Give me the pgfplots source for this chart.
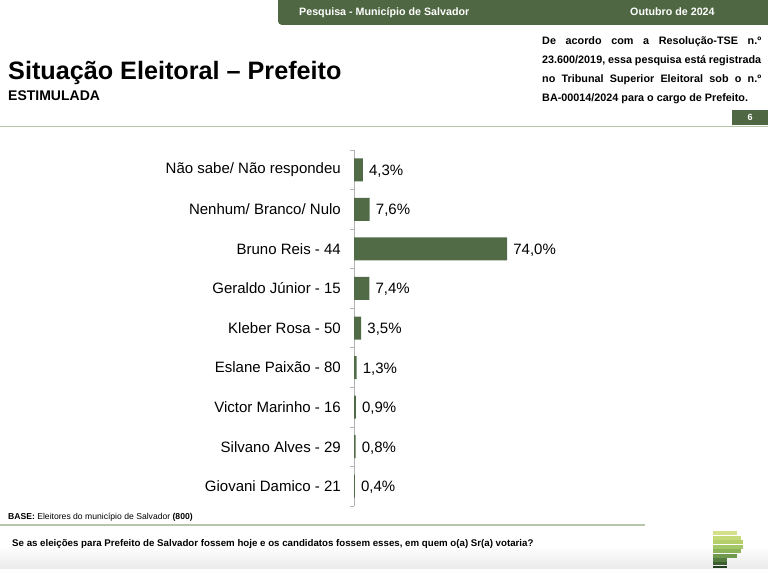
\documentclass[border=0pt]{standalone}
\usepackage{pgfplots}
\pgfplotsset{compat=1.18}
\usepackage{fontspec}
\setmainfont{Liberation Sans}
\definecolor{hdr}{HTML}{4F6743}
\definecolor{barA}{HTML}{506B46}
\definecolor{rule}{HTML}{B7C6AA}
\definecolor{lg1}{HTML}{D4E08A}
\definecolor{lg2}{HTML}{C5D978}
\definecolor{lg3}{HTML}{B5D06A}
\definecolor{lg4}{HTML}{A3C666}
\definecolor{lg5}{HTML}{8DB359}
\definecolor{lg6}{HTML}{6F9A4D}
\definecolor{lg7}{HTML}{527C40}
\definecolor{lg8}{HTML}{3A5E30}
\definecolor{lg9}{HTML}{22401E}
\begin{document}
\begin{tikzpicture}[x=1pt,y=1pt]
\useasboundingbox (0,0) rectangle (768,568);
% bottom faint gradient
\shade[top color=white, bottom color=black!8] (0,0) rectangle (768,22);
% header band
\fill[hdr] (278,568) [rounded corners=4pt]-- (278,543) -- (500,543) [sharp corners]-- (768,543) -- (768,568) -- cycle;
\node[anchor=base west, inner sep=0, text=white, font=\fontsize{10.7}{12}\selectfont\bfseries] at (299,552) {Pesquisa - Município de Salvador};
\node[anchor=base west, inner sep=0, text=white, font=\fontsize{10.7}{12}\selectfont\bfseries] at (630,552) {Outubro de 2024};
% title
\node[anchor=base west, inner sep=0, font=\fontsize{25.2}{28}\selectfont\bfseries] at (8,488) {Situação Eleitoral – Prefeito};
\node[anchor=base west, inner sep=0, font=\fontsize{14}{16}\selectfont\bfseries] at (8,467) {ESTIMULADA};
% legal text
\begin{scope}[every node/.style={anchor=base west, inner sep=0, font=\fontsize{10.8}{12}\selectfont\bfseries}]
\node at (542,523) {\makebox[219pt][s]{De acordo com a Resolução-TSE n.º}};
\node at (542,504) {\makebox[219pt][s]{23.600/2019, essa pesquisa está registrada}};
\node at (542,485) {\makebox[219pt][s]{no Tribunal Superior Eleitoral sob o n.º}};
\node at (542,466) {BA-00014/2024 para o cargo de Prefeito.};
\end{scope}
% page box and rule
\draw[rule, line width=1.5pt] (0,441.5) -- (768,441.5);
\fill[hdr] (732,443) rectangle (768,458);
\node[text=white, inner sep=0, font=\fontsize{9}{10}\selectfont\bfseries] at (750,450.5) {6};
% bottom
\node[anchor=base west, inner sep=0, font=\fontsize{8.6}{10}\selectfont] at (8,49) {\textbf{BASE:} Eleitores do município de Salvador \textbf{(800)}};
\draw[rule, line width=1.5pt] (0,43) -- (645,43);
\node[anchor=base west, inner sep=0, font=\fontsize{9.7}{12}\selectfont\bfseries] at (12,22) {Se as eleições para Prefeito de Salvador fossem hoje e os candidatos fossem esses, em quem o(a) Sr(a) votaria?};
% logo
\fill[lg1] (713,33) rectangle (737,37);
\fill[lg2] (713,28.5) rectangle (741,32.5);
\fill[lg3] (713,24) rectangle (743,28);
\fill[lg4] (713,19.5) rectangle (743,23.5);
\fill[lg5] (713,15) rectangle (741,19);
\fill[lg6] (713,10.5) rectangle (737,14.5);
\fill[lg7] (713,6.5) rectangle (727,10);
\fill[lg8] (713,3) rectangle (727,6);
\fill[lg9] (713,0) rectangle (727,2.5);
\begin{axis}[
  at={(354pt,62pt)}, anchor=south west,
  scale only axis, width=207pt, height=356pt,
  xbar, bar width=23pt,
  xmin=0, xmax=100, ymin=-0.5, ymax=8.5, y dir=reverse,
  axis x line=none, axis y line*=left,
  y axis line style={draw=gray!60, line width=0.8pt},
  ytick={0,...,8},
  yticklabels={{Não sabe/ Não respondeu},{Nenhum/ Branco/ Nulo},{Bruno Reis - 44},{Geraldo Júnior - 15},{Kleber Rosa - 50},{Eslane Paixão - 80},{Victor Marinho - 16},{Silvano Alves - 29},{Giovani Damico - 21}},
  yticklabel style={font=\fontsize{15}{18}\selectfont, inner sep=0pt, anchor=east, xshift=-13pt},
  major tick length=0pt,
  minor ytick={-0.5,0.5,...,8.5},
  minor tick length=4pt,
  tick align=outside,
  minor tick style={draw=gray!60, line width=0.6pt},
  nodes near coords={\pgfmathprintnumber[fixed,fixed zerofill,precision=1,use comma,assume math mode=true]{\pgfplotspointmeta}\%},
  every node near coord/.append style={font=\fontsize{15}{18}\selectfont, anchor=west, inner sep=0pt, xshift=6pt, yshift=-1.2pt},
  clip=false,
]
\addplot[draw=none, fill=barA] coordinates {
(4.3,0) (7.6,1) (74.0,2) (7.4,3) (3.5,4) (1.3,5) (0.9,6) (0.8,7) (0.4,8)};
\end{axis}
\end{tikzpicture}
\end{document}
